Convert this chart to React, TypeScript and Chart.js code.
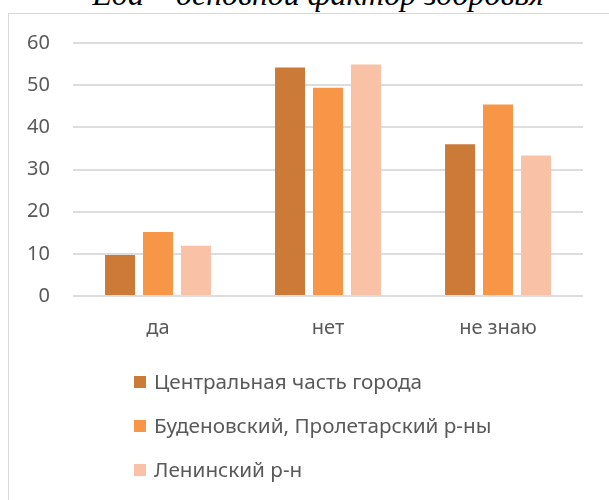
import React, { useEffect, useRef } from "react";
import { Chart, registerables } from "chart.js";

Chart.register(...registerables);

const TITLE = "Еда – основной фактор здоровья";
const CATEGORIES = ["да", "нет", "не знаю"];
const SERIES_NAMES = [
  "Центральная часть города",
  "Буденовский, Пролетарский р-ны",
  "Ленинский р-н",
];
const CENTER_VALUES = [9.7, 54.2, 36.0];
const BUDENOVSKY_VALUES = [15.2, 49.4, 45.4];
const LENINSKY_VALUES = [11.9, 54.9, 33.3];
const SERIES_COLORS = ["#CC7A38", "#F79646", "#F9C2A6"];
const Y_MIN = 0;
const Y_MAX = 60;
const Y_STEP = 10;

const TEXT_COLOR = "#595959";
const FONT_FAMILY = '"Noto Sans", sans-serif';

const verticalLegend = {
  id: "verticalLegend",
  afterDraw(chart: any) {
    const ctx = chart.ctx;
    ctx.save();
    chart.data.datasets.forEach((ds: any, i: number) => {
      const y = 368 + i * 44;
      ctx.fillStyle = ds.backgroundColor;
      ctx.fillRect(125, y - 6, 12, 12);
      ctx.fillStyle = TEXT_COLOR;
      ctx.font = `20.7px ${FONT_FAMILY}`;
      ctx.textBaseline = "middle";
      ctx.textAlign = "left";
      ctx.fillText(ds.label, 145, y + 1);
    });
    ctx.restore();
  },
};

export default function App() {
  const ref = useRef<HTMLCanvasElement | null>(null);

  useEffect(() => {
    if (!ref.current) return;
    const values = [CENTER_VALUES, BUDENOVSKY_VALUES, LENINSKY_VALUES];
    const chart = new Chart(ref.current, {
      type: "bar",
      data: {
        labels: CATEGORIES,
        datasets: SERIES_NAMES.map((name, i) => ({
          label: name,
          data: values[i],
          backgroundColor: SERIES_COLORS[i],
          borderWidth: 0,
          categoryPercentage: 0.67,
          barPercentage: 0.79,
        })),
      },
      options: {
        responsive: false,
        animation: false,
        devicePixelRatio: 1,
        layout: { padding: { left: 0, top: 29, right: 46, bottom: 145 } },
        plugins: {
          legend: { display: false },
          title: { display: false },
          tooltip: { enabled: false },
        },
        scales: {
          x: {
            grid: { display: false, drawTicks: false },
            border: { display: false },
            ticks: {
              color: TEXT_COLOR,
              font: { family: FONT_FAMILY, size: 20 },
              padding: 20,
            },
            afterFit(scale: any) {
              scale.height = 60;
            },
          },
          y: {
            min: Y_MIN,
            max: Y_MAX,
            grid: { color: "#DDDDDD", lineWidth: 2, drawTicks: false },
            border: { display: false },
            ticks: {
              stepSize: Y_STEP,
              color: TEXT_COLOR,
              font: { family: FONT_FAMILY, size: 20 },
              padding: 23,
            },
            afterFit(scale: any) {
              scale.width = 64;
              scale.paddingTop = 12;
              scale.paddingBottom = 12;
            },
          },
        },
      },
      plugins: [verticalLegend],
    });
    return () => chart.destroy();
  }, []);

  return (
    <div
      style={{
        position: "fixed",
        left: 0,
        top: 0,
        width: 609,
        height: 500,
        overflow: "hidden",
        background: "#fff",
      }}
    >
      <div
        style={{
          position: "absolute",
          left: 0,
          top: -22,
          width: 636,
          textAlign: "center",
          fontFamily: '"Liberation Serif", serif',
          fontStyle: "italic",
          fontSize: 32,
          lineHeight: 1,
          color: "#000",
          whiteSpace: "nowrap",
        }}
      >
        {TITLE}
      </div>
      <div
        style={{
          position: "absolute",
          left: 8,
          top: 13,
          width: 620,
          height: 520,
          border: "1px solid #D9D9D9",
          background: "#fff",
        }}
      >
        <canvas
          ref={ref}
          width={620}
          height={487}
          style={{ position: "absolute", left: 0, top: 0, width: 620, height: 487 }}
        />
      </div>
    </div>
  );
}
